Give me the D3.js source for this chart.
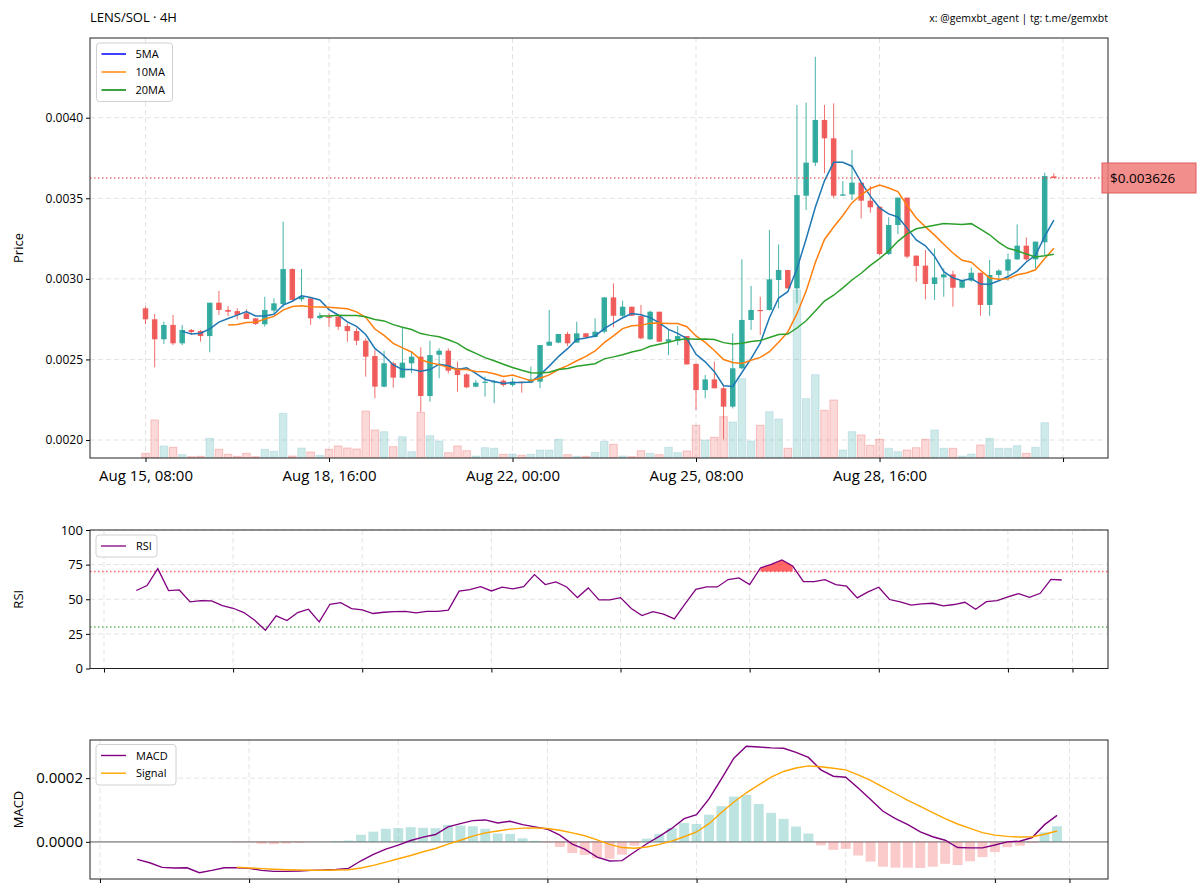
<!DOCTYPE html>
<html><head><meta charset="utf-8">
<script src="https://cdn.jsdelivr.net/npm/d3@7"></script>
<style>body{margin:0;background:#fff;} svg text{font-family:"Open Sans","Noto Sans",sans-serif;}</style>
</head><body>
<svg id="c" width="1200" height="896"></svg>
<script>
// ---------- DATA ----------
const openP  = [0.002817,0.002749,0.002625,0.002714,0.002600,0.002683,0.002676,0.002645,0.002852,0.002807,
0.002800,0.002786,0.002755,0.002718,0.002803,0.002844,0.003061,0.002873,0.002879,0.002757,
0.002765,0.002765,0.002707,0.002676,0.002616,0.002521,0.002331,0.002476,0.002387,0.002476,
0.002517,0.002273,0.002529,0.002554,0.002445,0.002407,0.002331,0.002356,0.002362,0.002368,
0.002341,0.002362,0.002356,0.002362,0.002585,0.002604,0.002658,0.002604,0.002662,0.002639,
0.002672,0.002885,0.002771,0.002827,0.002769,0.002625,0.002796,0.002610,0.002616,0.002645,
0.002472,0.002310,0.002376,0.002321,0.002207,0.002445,0.002745,0.002807,0.002807,0.002993,
0.003055,0.002941,0.003516,0.003721,0.003986,0.003872,0.003516,0.003524,0.003597,0.003485,
0.003448,0.003154,0.003334,0.003504,0.003144,0.003082,0.002968,0.003009,0.003028,0.002945,
0.002989,0.003038,0.002838,0.003024,0.003051,0.003121,0.003206,0.003121,0.003227,0.003636];
const highP  = [0.002827,0.002782,0.002734,0.002776,0.002714,0.002689,0.002683,0.002852,0.002925,0.002831,
0.002817,0.002811,0.002755,0.002889,0.002879,0.003355,0.003065,0.003061,0.002879,0.002790,
0.002786,0.002776,0.002724,0.002693,0.002631,0.002558,0.002554,0.002486,0.002697,0.002548,
0.002575,0.002616,0.002569,0.002569,0.002486,0.002414,0.002372,0.002393,0.002372,0.002376,
0.002383,0.002362,0.002455,0.002589,0.002807,0.002658,0.002672,0.002734,0.002662,0.002755,
0.002885,0.002972,0.002865,0.002827,0.002838,0.002803,0.002796,0.002683,0.002707,0.002645,
0.002476,0.002403,0.002486,0.002342,0.002662,0.003121,0.002956,0.002889,0.003303,0.003214,
0.003055,0.004079,0.004093,0.004378,0.004079,0.004089,0.003607,0.003799,0.003597,0.003576,
0.003448,0.003382,0.003504,0.003504,0.003144,0.003179,0.003189,0.003065,0.003050,0.002993,
0.003071,0.003038,0.003117,0.003059,0.003158,0.003338,0.003257,0.003231,0.003659,0.003655];
const lowP   = [0.002720,0.002451,0.002596,0.002589,0.002589,0.002652,0.002610,0.002544,0.002776,0.002769,
0.002749,0.002751,0.002714,0.002703,0.002786,0.002823,0.002865,0.002858,0.002714,0.002749,
0.002703,0.002683,0.002610,0.002589,0.002393,0.002259,0.002327,0.002325,0.002383,0.002414,
0.002176,0.002238,0.002383,0.002414,0.002300,0.002321,0.002327,0.002269,0.002228,0.002331,
0.002331,0.002294,0.002356,0.002321,0.002585,0.002600,0.002583,0.002604,0.002631,0.002637,
0.002662,0.002699,0.002765,0.002769,0.002625,0.002621,0.002610,0.002527,0.002589,0.002469,
0.002186,0.002259,0.002321,0.002004,0.002196,0.002439,0.002683,0.002652,0.002803,0.002817,
0.002941,0.002848,0.003427,0.003700,0.003655,0.003500,0.003516,0.003489,0.003375,0.003411,
0.003148,0.003148,0.003278,0.003127,0.002982,0.002873,0.002869,0.002889,0.002827,0.002941,
0.002982,0.002771,0.002771,0.002989,0.002989,0.003117,0.003113,0.003065,0.003148,0.003626];
const closeP = [0.002749,0.002625,0.002714,0.002600,0.002683,0.002670,0.002645,0.002852,0.002807,0.002796,
0.002776,0.002751,0.002720,0.002807,0.002848,0.003061,0.002869,0.002889,0.002755,0.002771,
0.002761,0.002703,0.002676,0.002616,0.002517,0.002331,0.002476,0.002387,0.002480,0.002517,
0.002273,0.002527,0.002554,0.002430,0.002403,0.002327,0.002356,0.002362,0.002364,0.002341,
0.002362,0.002356,0.002376,0.002589,0.002610,0.002658,0.002600,0.002662,0.002637,0.002672,
0.002885,0.002771,0.002827,0.002771,0.002631,0.002796,0.002610,0.002625,0.002645,0.002469,
0.002310,0.002376,0.002321,0.002207,0.002445,0.002745,0.002807,0.002801,0.002997,0.003055,
0.002941,0.003520,0.003721,0.003986,0.003872,0.003516,0.003524,0.003597,0.003485,0.003444,
0.003154,0.003334,0.003504,0.003138,0.003080,0.002968,0.003009,0.003028,0.002945,0.002989,
0.003038,0.002838,0.003024,0.003051,0.003121,0.003206,0.003121,0.003231,0.003638,0.003626];
const volume = [4700,38000,12000,10700,3300,1300,1700,19700,8700,3700,
1700,4700,1300,8700,6700,44700,2000,10000,6000,2700,
8700,12000,10000,9000,47000,28000,26300,11300,21300,6300,
45700,22300,17000,5300,12000,7300,2000,10300,9700,3700,
4000,2700,3700,8000,8000,18700,3300,1700,1700,5700,
16700,13700,2000,1300,7300,4700,3300,10700,5300,7000,
32700,18000,20700,41300,36000,79300,17000,32700,46300,39000,
9700,168000,59300,83300,47700,58000,8000,26300,23000,12700,
18700,9700,6300,8000,10300,18700,28000,9700,9700,2000,
4000,13000,19700,9700,9700,12300,4700,10700,35300,0];

const rsiStart = 13;
const rsi = [56.3,59.9,72.1,56.3,56.7,48.1,49.0,48.8,45.4,43.5,
40.4,34.9,27.6,38.0,34.6,40.4,42.8,33.7,46.4,47.6,
43.3,42.3,39.7,40.6,41.1,41.3,40.1,41.3,41.3,42.1,
55.8,57.0,59.1,56.0,58.7,57.5,59.1,67.8,60.6,62.5,
58.9,51.2,58.2,49.5,49.5,51.2,43.3,38.2,41.1,39.2,
35.8,46.6,57.2,58.9,58.9,64.2,65.4,60.6,72.6,75.2,
78.4,74.0,62.7,62.7,64.2,60.6,59.4,51.0,55.3,58.7,
49.8,48.1,45.7,46.6,47.1,45.2,46.2,47.8,42.8,48.3,
49.0,51.7,54.1,51.4,54.3,64.4,63.9];

const macdStart = 25;
const macd = [-0.552e-4,-0.656e-4,-0.802e-4,-0.823e-4,-0.813e-4,-0.969e-4,-0.896e-4,-0.813e-4,-0.813e-4,-0.833e-4,
-0.896e-4,-0.927e-4,-0.927e-4,-0.917e-4,-0.896e-4,-0.885e-4,-0.865e-4,-0.833e-4,-0.594e-4,-0.396e-4,
-0.229e-4,-0.104e-4,0.042e-4,0.146e-4,0.229e-4,0.469e-4,0.573e-4,0.667e-4,0.688e-4,0.594e-4,
0.646e-4,0.542e-4,0.469e-4,0.396e-4,0.208e-4,-0.073e-4,-0.229e-4,-0.48e-4,-0.60e-4,-0.59e-4,
-0.32e-4,-0.06e-4,0.17e-4,0.42e-4,0.73e-4,0.85e-4,1.35e-4,1.98e-4,2.625e-4,3.00e-4,
2.98e-4,2.95e-4,2.94e-4,2.81e-4,2.65e-4,2.26e-4,2.06e-4,2.03e-4,1.69e-4,1.33e-4,
0.96e-4,0.73e-4,0.54e-4,0.31e-4,0.16e-4,0.05e-4,-0.18e-4,-0.19e-4,-0.19e-4,-0.10e-4,
0.0,0.02e-4,0.135e-4,0.54e-4,0.83e-4];
const signalStart = 33;
const signal = [-0.80e-4,-0.82e-4,-0.84e-4,-0.86e-4,-0.875e-4,-0.885e-4,-0.89e-4,-0.89e-4,-0.885e-4,-0.875e-4,
-0.82e-4,-0.74e-4,-0.635e-4,-0.53e-4,-0.43e-4,-0.31e-4,-0.21e-4,-0.07e-4,0.05e-4,0.18e-4,
0.28e-4,0.34e-4,0.40e-4,0.43e-4,0.44e-4,0.42e-4,0.365e-4,0.28e-4,0.19e-4,0.06e-4,
-0.08e-4,-0.18e-4,-0.20e-4,-0.16e-4,-0.08e-4,0.02e-4,0.16e-4,0.31e-4,0.57e-4,0.92e-4,
1.25e-4,1.54e-4,1.79e-4,2.03e-4,2.21e-4,2.32e-4,2.385e-4,2.36e-4,2.31e-4,2.26e-4,
2.10e-4,1.93e-4,1.72e-4,1.51e-4,1.30e-4,1.11e-4,0.92e-4,0.73e-4,0.56e-4,0.42e-4,
0.29e-4,0.21e-4,0.17e-4,0.15e-4,0.16e-4,0.24e-4,0.34e-4];
const hist = [-0.01e-4,-0.01e-4,-0.06e-4,-0.07e-4,-0.05e-4,-0.03e-4,-0.01e-4,0.0,0.02e-4,0.04e-4,
0.22e-4,0.32e-4,0.41e-4,0.43e-4,0.46e-4,0.44e-4,0.43e-4,0.53e-4,0.51e-4,0.49e-4,
0.41e-4,0.26e-4,0.25e-4,0.11e-4,0.03e-4,-0.02e-4,-0.16e-4,-0.35e-4,-0.41e-4,-0.52e-4,
-0.53e-4,-0.40e-4,-0.12e-4,0.10e-4,0.25e-4,0.43e-4,0.59e-4,0.56e-4,0.85e-4,1.12e-4,
1.42e-4,1.47e-4,1.19e-4,0.91e-4,0.72e-4,0.48e-4,0.26e-4,-0.11e-4,-0.25e-4,-0.22e-4,
-0.43e-4,-0.62e-4,-0.78e-4,-0.81e-4,-0.81e-4,-0.82e-4,-0.78e-4,-0.69e-4,-0.73e-4,-0.61e-4,
-0.48e-4,-0.32e-4,-0.17e-4,-0.12e-4,-0.03e-4,0.30e-4,0.49e-4];

const mainTickIdx = [0,20,40,60,80,100];
const mainTickLabels = ["Aug 15, 08:00","Aug 18, 16:00","Aug 22, 00:00","Aug 25, 08:00","Aug 28, 16:00",""];
const rsiTickIdx = [10,22,34,46,58,70,82,94,100];
const macdTickIdx = [22,34,46,58,70,82,94,100];
const priceTicks = [0.0020,0.0025,0.0030,0.0035,0.0040];
const rsiTicks = [0,25,50,75,100];
const macdTicks = [0,0.0002];
const maPeriods = [5,10,20];
const lastPrice = 0.003626;

// ---------- STYLE ----------
const GREEN="#26a69a", RED="#ef5350";
const MA_COL=["#1f77b4","#ff7f0e","#2ca02c"], MA_LEG=["#0000ff","#ff8c00","#008000"];
const svg=d3.select("#c");
const main={l:90,r:1108,t:38,b:458}, rP={l:90,r:1108,t:530,b:668.5}, mP={l:90,r:1108,t:740,b:879};

const x=d3.scaleLinear().domain([-6.05,104.9]).range([main.l,main.r]);
const y=d3.scaleLinear().domain([0.0018883,0.0044946]).range([main.b,main.t]);
const yv=d3.scaleLinear().domain([0,d3.max(volume)*2.5]).range([main.b,main.t]);
const xr=d3.scaleLinear().domain([8.7,103.3]).range([rP.l,rP.r]);
const yr=d3.scaleLinear().domain([0,100]).range([rP.b,rP.t]);
const xm=d3.scaleLinear().domain([21.2,103.1]).range([mP.l,mP.r]);
const ym=d3.scaleLinear().domain([-1.167e-4,3.198e-4]).range([mP.b,mP.t]);

const defs=svg.append("defs");
function clip(id,p){defs.append("clipPath").attr("id",id).append("rect").attr("x",p.l).attr("y",p.t).attr("width",p.r-p.l).attr("height",p.b-p.t);}
clip("cm",main);clip("cr",rP);clip("cma",mP);

function grid(p,xs,xt,ys,yt){
  const g=svg.append("g").attr("stroke","#e3e3e3").attr("stroke-width",1).attr("stroke-dasharray","5,3");
  xt.forEach(v=>g.append("line").attr("x1",xs(v)).attr("x2",xs(v)).attr("y1",p.t).attr("y2",p.b));
  yt.forEach(v=>g.append("line").attr("x1",p.l).attr("x2",p.r).attr("y1",ys(v)).attr("y2",ys(v)));
}
function axes(p,xs,xt,xl,ys,yt,fmt,fsx,fsy){
  const ax=svg.append("g").attr("transform",`translate(0,${p.b})`)
    .call(d3.axisBottom(xs).tickValues(xt).tickSize(4).tickFormat((d,i)=>xl?xl[i]:""));
  const ay=svg.append("g").attr("transform",`translate(${p.l},0)`)
    .call(d3.axisLeft(ys).tickValues(yt).tickSize(4).tickFormat(fmt));
  [ax,ay].forEach(a=>{a.select(".domain").remove();a.selectAll("line").attr("stroke","#000");
    a.selectAll("text").attr("fill","#000").attr("font-family",'"Open Sans","Noto Sans",sans-serif');});
  ax.selectAll("text").attr("font-size",fsx).attr("dy","1.05em");
  ay.selectAll("text").attr("font-size",fsy);
  svg.append("rect").attr("x",p.l).attr("y",p.t).attr("width",p.r-p.l).attr("height",p.b-p.t)
    .attr("fill","none").attr("stroke","#222").attr("stroke-width",1);
}

// ---------- MAIN ----------
grid(main,x,mainTickIdx,y,priceTicks);
const idx=d3.range(closeP.length);
const gm=svg.append("g").attr("clip-path","url(#cm)");
const up=i=>closeP[i]>=openP[i];
const bw=0.82;
gm.selectAll(".vol").data(idx).join("rect")
  .attr("x",i=>x(i-bw/2)).attr("width",x(bw)-x(0))
  .attr("y",i=>yv(volume[i])).attr("height",i=>main.b-yv(volume[i]))
  .attr("fill",i=>up(i)?GREEN:RED).attr("fill-opacity",0.22)
  .attr("stroke",i=>up(i)?"#7fb8c9":RED).attr("stroke-opacity",0.3).attr("stroke-width",1);
gm.selectAll(".wick").data(idx).join("line")
  .attr("x1",i=>x(i)).attr("x2",i=>x(i)).attr("y1",i=>y(highP[i])).attr("y2",i=>y(lowP[i]))
  .attr("stroke",i=>up(i)?GREEN:RED).attr("stroke-width",1).attr("stroke-opacity",0.85);
const cw=0.6;
gm.selectAll(".body").data(idx).join("rect")
  .attr("x",i=>x(i-cw/2)).attr("width",x(cw)-x(0))
  .attr("y",i=>y(Math.max(openP[i],closeP[i])))
  .attr("height",i=>Math.max(1.2,Math.abs(y(openP[i])-y(closeP[i]))))
  .attr("fill",i=>up(i)?GREEN:RED).attr("fill-opacity",0.92);
maPeriods.forEach((n,k)=>{
  const ma=idx.map(i=>i<n-1?null:d3.mean(closeP.slice(i-n+1,i+1)));
  gm.append("path").datum(idx).attr("fill","none").attr("stroke",MA_COL[k]).attr("stroke-width",1.5)
    .attr("d",d3.line().defined(i=>ma[i]!=null).x(i=>x(i)).y(i=>y(ma[i])));
});
svg.append("line").attr("x1",main.l).attr("x2",main.r).attr("y1",y(lastPrice)).attr("y2",y(lastPrice))
  .attr("stroke","#f05050").attr("stroke-opacity",0.8).attr("stroke-width",1.5).attr("stroke-dasharray","1.5,2.5");
axes(main,x,mainTickIdx,mainTickLabels,y,priceTicks,d3.format(".4f"),15,12);
// legend
{const g=svg.append("g");
 g.append("rect").attr("x",96.5).attr("y",43).attr("width",76).attr("height",58.5).attr("rx",3)
  .attr("fill","#fff").attr("fill-opacity",0.85).attr("stroke","#d0d0d0");
 ["5MA","10MA","20MA"].forEach((t,k)=>{const yy=54+18*k;
  g.append("line").attr("x1",101.5).attr("x2",126).attr("y1",yy).attr("y2",yy).attr("stroke",MA_LEG[k]).attr("stroke-width",1.5);
  g.append("text").attr("x",135.5).attr("y",yy+4).attr("font-size",11).text(t);});}
// price tag
svg.append("rect").attr("x",1102).attr("y",163).attr("width",94).attr("height",30)
  .attr("fill","#f07a78").attr("fill-opacity",0.85).attr("stroke","#e05a5a");
svg.append("text").attr("x",1110).attr("y",183).attr("font-size",13.5).text("$"+lastPrice.toFixed(6));
svg.append("text").attr("x",90).attr("y",22).attr("font-size",13).text("LENS/SOL · 4H");
svg.append("text").attr("x",1108).attr("y",22).attr("font-size",10.5).attr("text-anchor","end").text("x: @gemxbt_agent | tg: t.me/gemxbt");
svg.append("text").attr("transform",`translate(23,${(main.t+main.b)/2}) rotate(-90)`).attr("text-anchor","middle").attr("font-size",13).text("Price");

// ---------- RSI ----------
grid(rP,xr,rsiTickIdx,yr,rsiTicks);
const gr=svg.append("g").attr("clip-path","url(#cr)");
[[70,"#ff3030"],[30,"#30a030"]].forEach(([v,c])=>gr.append("line").attr("x1",rP.l).attr("x2",rP.r)
  .attr("y1",yr(v)).attr("y2",yr(v)).attr("stroke",c).attr("stroke-opacity",0.75).attr("stroke-width",1.5).attr("stroke-dasharray","1.5,2.5"));
const ri=d3.range(rsi.length);
gr.append("path").datum(ri).attr("fill","#ff0000").attr("fill-opacity",0.6)
  .attr("d",d3.area().defined(k=>rsi[k]>=70).x(k=>xr(k+rsiStart)).y0(yr(70)).y1(k=>yr(rsi[k])));
gr.append("path").datum(ri).attr("fill","none").attr("stroke","#800080").attr("stroke-width",1.3)
  .attr("d",d3.line().x(k=>xr(k+rsiStart)).y(k=>yr(rsi[k])));
axes(rP,xr,rsiTickIdx,null,yr,rsiTicks,d3.format("d"),13,13);
{const g=svg.append("g");
 g.append("rect").attr("x",96).attr("y",535).attr("width",61).attr("height",22).attr("rx",3).attr("fill","#fff").attr("stroke","#d0d0d0");
 g.append("line").attr("x1",101).attr("x2",126).attr("y1",546).attr("y2",546).attr("stroke","#800080").attr("stroke-width",1.3);
 g.append("text").attr("x",136).attr("y",550).attr("font-size",11).text("RSI");}
svg.append("text").attr("transform",`translate(23,${(rP.t+rP.b)/2}) rotate(-90)`).attr("text-anchor","middle").attr("font-size",13).text("RSI");

// ---------- MACD ----------
grid(mP,xm,macdTickIdx,ym,macdTicks);
const gma=svg.append("g").attr("clip-path","url(#cma)");
gma.append("line").attr("x1",mP.l).attr("x2",mP.r).attr("y1",ym(0)).attr("y2",ym(0)).attr("stroke","#a0a0a0").attr("stroke-width",1.6);
const hi=d3.range(hist.length);
gma.selectAll(".hb").data(hi).join("rect")
  .attr("x",k=>xm(k+signalStart-0.4)).attr("width",xm(0.8)-xm(0))
  .attr("y",k=>ym(Math.max(0,hist[k]))).attr("height",k=>Math.abs(ym(hist[k])-ym(0)))
  .attr("fill",k=>hist[k]>=0?GREEN:RED).attr("fill-opacity",0.3);
gma.append("path").datum(d3.range(macd.length)).attr("fill","none").attr("stroke","#800080").attr("stroke-width",1.4)
  .attr("d",d3.line().x(k=>xm(k+macdStart)).y(k=>ym(macd[k])));
gma.append("path").datum(d3.range(signal.length)).attr("fill","none").attr("stroke","#ffa500").attr("stroke-width",1.4)
  .attr("d",d3.line().x(k=>xm(k+signalStart)).y(k=>ym(signal[k])));
axes(mP,xm,macdTickIdx,null,ym,macdTicks,d3.format(".4f"),13,15);
{const g=svg.append("g");
 g.append("rect").attr("x",96).attr("y",744.5).attr("width",80).attr("height",40.5).attr("rx",3).attr("fill","#fff").attr("stroke","#d0d0d0");
 [["MACD","#800080"],["Signal","#ffa500"]].forEach(([t,c],k)=>{const yy=755.5+17.7*k;
  g.append("line").attr("x1",101).attr("x2",126).attr("y1",yy).attr("y2",yy).attr("stroke",c).attr("stroke-width",1.4);
  g.append("text").attr("x",136).attr("y",yy+4).attr("font-size",11).text(t);});}
svg.append("text").attr("transform",`translate(23,${(mP.t+mP.b)/2}) rotate(-90)`).attr("text-anchor","middle").attr("font-size",13).text("MACD");
</script></body></html>
